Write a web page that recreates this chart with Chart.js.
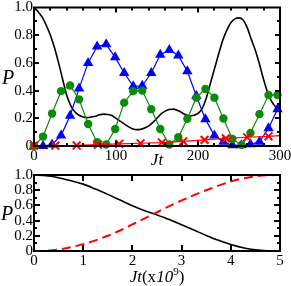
<!DOCTYPE html>
<html><head><meta charset="utf-8">
<script src="https://cdn.jsdelivr.net/npm/chart.js@4"></script>
<style>
html,body{margin:0;padding:0;background:#fff;width:291px;height:286px;overflow:hidden;}
body{position:relative;}
canvas{position:absolute;left:0;}
#c1{top:0;}
#c2{top:165px;}
.lab{position:absolute;font-family:"Liberation Serif",serif;color:#000;line-height:1;white-space:nowrap;transform:translate(-50%,-50%);}
.lab sup{font-size:0.65em;vertical-align:0.55em;line-height:0;}
</style></head><body>
<canvas id="c1" width="291" height="165"></canvas>
<canvas id="c2" width="291" height="121"></canvas>
<div class="lab" style="left:8px;top:77px;font-size:20px;font-style:italic">P</div>
<div class="lab" style="left:157px;top:159px;font-size:17px;font-style:italic">Jt</div>
<div class="lab" style="left:7px;top:213px;font-size:20px;font-style:italic">P</div>
<div class="lab" style="left:157px;top:276px;font-size:17px"><i>Jt</i>(x<i>10</i><sup>9</sup>)</div>
<script>
// ---------- top panel data ----------
const topXTicks = [0, 100, 200, 300];
const yTicks = [0, 0.2, 0.4, 0.6, 0.8, 1];

const blackJt = [0,5,10,15,20,25,30,35,40,45,50,55,60,65,70,75,80,85,90,95,100,105,110,115,120,125,130,135,140,145,150,155,160,165,170,175,180,185,190,195,200,205,210,215,220,225,230,235,240,245,250,255,260,265,270,275,280,285,290,295,300];
const blackP = [1.0,0.97,0.93,0.87,0.80,0.71,0.60,0.48,0.365,0.29,0.245,0.222,0.21,0.205,0.21,0.215,0.225,0.23,0.228,0.22,0.20,0.18,0.16,0.14,0.125,0.118,0.12,0.13,0.145,0.17,0.20,0.232,0.252,0.264,0.266,0.256,0.242,0.225,0.218,0.222,0.235,0.27,0.345,0.45,0.555,0.66,0.76,0.835,0.89,0.918,0.925,0.91,0.855,0.77,0.69,0.59,0.48,0.385,0.32,0.28,0.26];

const markJt = [0,11,22,33,44,55,66,77,88,99,110,121,132,143,154,165,176,187,198,209,220,231,242,253,264,275,286,297];
const blueP = [0.0,0.0,0.011,0.075,0.218,0.416,0.60,0.718,0.734,0.64,0.527,0.432,0.435,0.527,0.659,0.694,0.654,0.539,0.361,0.194,0.075,0.03,0.005,0.005,0.012,0.03,0.128,0.266];
const greenP = [0.0,0.068,0.234,0.396,0.437,0.337,0.159,0.027,0.011,0.123,0.313,0.396,0.40,0.266,0.123,0.011,0.063,0.197,0.349,0.412,0.349,0.199,0.051,0.008,0.094,0.23,0.368,0.368];

const redJt = [0,26,52,78,104,130,156,182,208,234,260,286,300];
const redP = [0.003,0.003,0.004,0.01,0.016,0.02,0.025,0.034,0.044,0.055,0.063,0.07,0.075];

// ---------- bottom panel data ----------
const botXTicks = [0, 1, 2, 3, 4, 5];
const botJt = [0,0.25,0.5,0.75,1,1.25,1.5,1.75,2,2.25,2.5,2.75,3,3.25,3.5,3.75,4,4.25,4.5,4.75,5];
const botBlackP = [1.0,0.99,0.965,0.925,0.88,0.815,0.745,0.67,0.595,0.53,0.475,0.415,0.345,0.275,0.205,0.14,0.085,0.042,0.015,0.003,0.0];
const botRedP = [0.0,0.003,0.02,0.05,0.09,0.14,0.20,0.27,0.35,0.43,0.51,0.59,0.665,0.735,0.80,0.86,0.915,0.955,0.982,0.996,1.0];

const pts = (xs, ys) => xs.map((x, i) => ({x, y: ys[i]}));

const FONT = {family: '"Liberation Serif", serif', size: 15};

function frameTicksPlugin(cfg) {
  return {
    id: 'frameTicks',
    afterDatasetsDraw(chart) {
      const {ctx, chartArea: a, scales: {x, y}} = chart;
      ctx.save();
      ctx.strokeStyle = '#000';
      ctx.lineWidth = 2;
      ctx.beginPath();
      const eps = 1e-9;
      for (let v = cfg.xMin; v <= cfg.xMax + eps; v += cfg.xMinor) {
        const isMajor = Math.abs(v / cfg.xMajor - Math.round(v / cfg.xMajor)) < 1e-6;
        if (v <= cfg.xMin + eps || v >= cfg.xMax - eps) continue;
        const px = Math.round(x.getPixelForValue(v));
        const len = isMajor ? cfg.majorLen : cfg.minorLen;
        ctx.moveTo(px, a.bottom); ctx.lineTo(px, a.bottom - len);
        ctx.moveTo(px, a.top); ctx.lineTo(px, a.top + len);
      }
      for (let v = cfg.yMin; v <= cfg.yMax + eps; v += cfg.yMinor) {
        const isMajor = Math.abs(v / cfg.yMajor - Math.round(v / cfg.yMajor)) < 1e-6;
        if (v <= cfg.yMin + eps || v >= cfg.yMax - eps) continue;
        const py = Math.round(y.getPixelForValue(v));
        const len = isMajor ? cfg.majorLen : cfg.minorLen;
        ctx.moveTo(a.left, py); ctx.lineTo(a.left + len, py);
        ctx.moveTo(a.right, py); ctx.lineTo(a.right - len, py);
      }
      ctx.stroke();
      ctx.strokeRect(a.left, a.top, a.right - a.left, a.bottom - a.top);
      ctx.restore();
    }
  };
}

function xScale(min, max, ticks, height, pad) {
  return {
    type: 'linear', min, max,
    afterBuildTicks: s => { s.ticks = ticks.map(v => ({value: v})); },
    afterFit: s => { s.height = height; s.paddingLeft = 0; s.paddingRight = 0; },
    grid: {display: false, drawTicks: false},
    border: {display: false},
    ticks: {font: FONT, color: '#000', padding: pad, maxRotation: 0, autoSkip: false}
  };
}
function yScale(ticks) {
  return {
    type: 'linear', min: 0, max: 1,
    afterBuildTicks: s => { s.ticks = ticks.map(v => ({value: v})); },
    afterFit: s => { s.width = 34; s.paddingTop = 0; s.paddingBottom = 0; },
    grid: {display: false, drawTicks: false},
    border: {display: false},
    ticks: {font: FONT, color: '#000', padding: 1, autoSkip: false}
  };
}

const common = {
  responsive: false, animation: false,
  plugins: {legend: {display: false}, tooltip: {enabled: false}},
  events: []
};

new Chart(document.getElementById('c1'), {
  type: 'line',
  data: {datasets: [
    {data: pts(redJt, redP), borderColor: '#ff0000', borderWidth: 1.2, pointStyle: 'crossRot',
     pointRadius: redJt.map((v, i) => i === redJt.length - 1 ? 0 : 5.5), pointBorderWidth: 2,
     pointBorderColor: '#ff0000', backgroundColor: '#ff0000', clip: false},
    {data: pts(markJt, greenP), borderColor: '#0a8c0a', borderWidth: 1.2, pointStyle: 'circle', pointRadius: 4.2,
     pointBorderWidth: 0, backgroundColor: '#0a8c0a', pointBackgroundColor: '#0a8c0a', clip: false},
    {data: pts(markJt, blueP), borderColor: '#0000ff', borderWidth: 1.2, pointStyle: 'triangle', pointRadius: 6,
     pointBorderWidth: 0, backgroundColor: '#0000ff', pointBackgroundColor: '#0000ff', clip: false},
    {data: pts(blackJt, blackP), borderColor: '#000', borderWidth: 1.6, pointRadius: 0, cubicInterpolationMode: 'monotone', clip: false}
  ]},
  options: Object.assign({}, common, {
    layout: {padding: {top: 5, right: 11, left: 0, bottom: 0}},
    scales: {x: xScale(0, 300, topXTicks, 19, 1), y: yScale(yTicks)}
  }),
  plugins: [frameTicksPlugin({xMin: 0, xMax: 300, xMajor: 100, xMinor: 20, yMin: 0, yMax: 1, yMajor: 0.2, yMinor: 0.1, majorLen: 5, minorLen: 3})]
});

new Chart(document.getElementById('c2'), {
  type: 'line',
  data: {datasets: [
    {data: pts(botJt, botRedP), borderColor: '#ff0000', borderWidth: 2, borderDash: [9, 5], pointRadius: 0, cubicInterpolationMode: 'monotone'},
    {data: pts(botJt, botBlackP), borderColor: '#000', borderWidth: 1.6, pointRadius: 0, cubicInterpolationMode: 'monotone'}
  ]},
  options: Object.assign({}, common, {
    layout: {padding: {top: 10, right: 11, left: 0, bottom: 0}},
    scales: {x: xScale(0, 5, botXTicks, 35, 1), y: yScale(yTicks)}
  }),
  plugins: [frameTicksPlugin({xMin: 0, xMax: 5, xMajor: 1, xMinor: 1, yMin: 0, yMax: 1, yMajor: 0.2, yMinor: 0.1, majorLen: 6, minorLen: 3})]
});
</script>
</body></html>
